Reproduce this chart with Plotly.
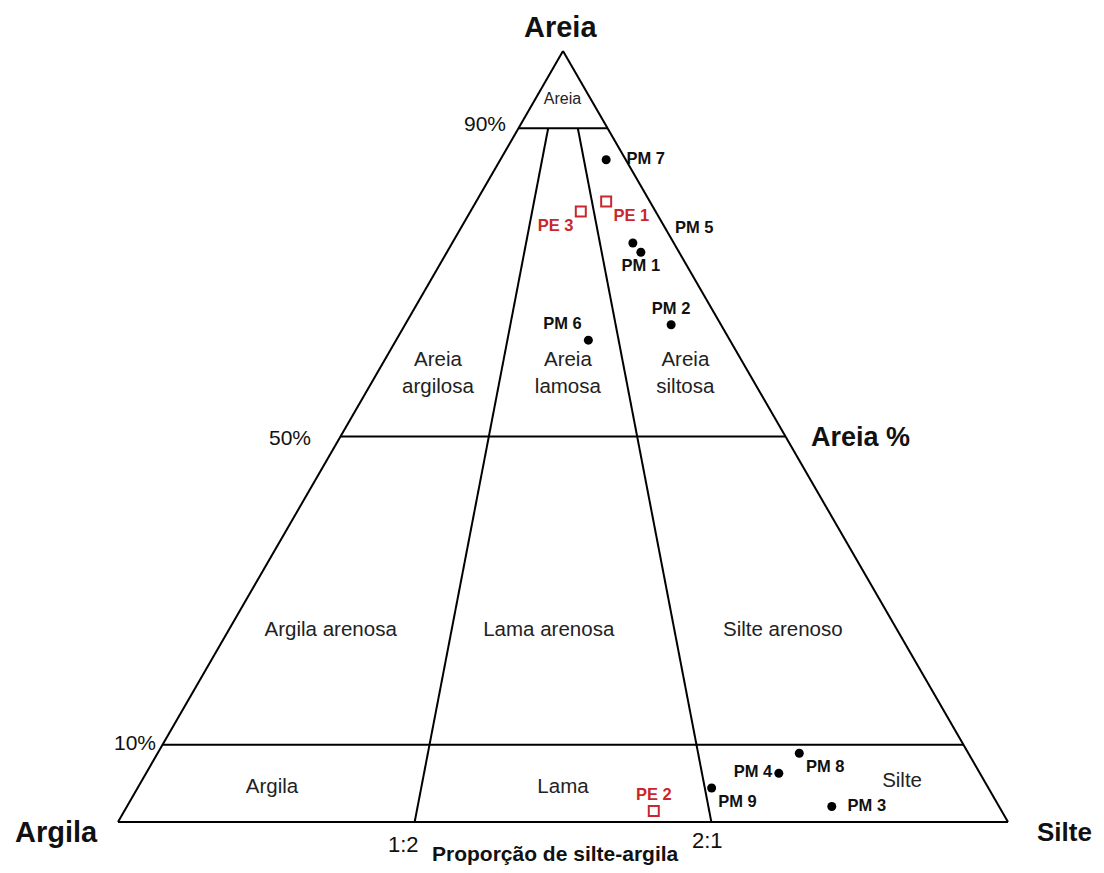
import plotly.graph_objects as go

# --- Classification boundaries (Shepard diagram) ---
sand_levels = [90, 50, 10]          # Areia %
silt_shares = [1 / 3, 2 / 3]        # silte/(silte+argila): 1:2 and 2:1

# --- Samples: PM (black dots) ---
pm_names = ["PM 1", "PM 2", "PM 3", "PM 4", "PM 5", "PM 6", "PM 7", "PM 8", "PM 9"]
pm_areia = [73.9, 64.5, 2.0, 6.3, 75.1, 62.5, 85.9, 8.9, 4.4]
pm_silte = [21.8, 29.9, 79.2, 71.1, 20.3, 21.6, 11.9, 72.1, 64.5]
pm_argila = [4.3, 5.6, 18.8, 22.6, 4.6, 15.9, 2.2, 19.0, 31.1]

# --- Samples: PE (red open squares) ---
pe_names = ["PE 1", "PE 2", "PE 3"]
pe_areia = [80.5, 1.4, 79.2]
pe_silte = [14.6, 59.5, 12.4]
pe_argila = [4.9, 39.1, 8.4]

# --- Class names placed inside the fields ---
class_names = ["Areia", "Areia<br>argilosa", "Areia<br>lamosa", "Areia<br>siltosa",
               "Argila arenosa", "Lama arenosa", "Silte arenoso", "Argila", "Lama", "Silte"]
class_areia = [93.7, 58.1, 58.1, 58.1, 24.8, 24.8, 24.8, 4.4, 4.4, 5.2]
class_silte = [3.1, 6.9, 21.5, 34.7, 11.5, 36.0, 62.3, 15.1, 47.8, 85.5]
class_argila = [3.2, 35.0, 20.4, 7.2, 63.7, 39.2, 12.9, 80.5, 47.8, 9.3]

# label placement for each sample (PM 5 label sits outside the triangle)
pm_textpos = ["bottom center", "top center", "middle right", "middle left", "middle right",
              "top left", "middle right", "bottom right", "bottom right"]
pm_pad = [0, 0, 2, 0, 2, 0, 3, 0, 0]
pm_far = {"PM 5": (1.8, -4.6, 2.8)}   # (d areia, d argila, d silte): label anchor on the edge
pe_textpos = ["bottom right", "top center", "bottom left"]

RED = "#c8282d"
FONT = "Liberation Sans"
W, H = 1104, 873
OFF = 8          # page body margin
NB = "\u00a0"

fig = go.Figure()

# horizontal sand lines
for s in sand_levels:
    fig.add_trace(go.Scatterternary(
        a=[s, s], b=[100 - s, 0], c=[0, 100 - s],
        mode="lines", line=dict(color="black", width=2),
        hoverinfo="skip", showlegend=False,
    ))

# silt:clay ratio lines, from the base up to the 90% line
top = sand_levels[0]
for f in silt_shares:
    fig.add_trace(go.Scatterternary(
        a=[0, top],
        b=[100 * (1 - f), (100 - top) * (1 - f)],
        c=[100 * f, (100 - top) * f],
        mode="lines", line=dict(color="black", width=2),
        hoverinfo="skip", showlegend=False,
    ))

# class labels
fig.add_trace(go.Scatterternary(
    a=class_areia, b=class_argila, c=class_silte,
    mode="text", text=class_names,
    textfont=dict(family=FONT, size=[16] + [20.5] * 9, color="#222"),
    hoverinfo="skip", showlegend=False,
))


def pad(name, pos, n):
    if pos.endswith("right"):
        return NB * n + name
    if pos.endswith("left"):
        return name + NB * n
    return name


pm_text = []
for n, p, k in zip(pm_names, pm_textpos, pm_pad):
    pm_text.append("" if n in pm_far else "<b>%s</b>" % pad(n, p, k))

# PM samples
fig.add_trace(go.Scatterternary(
    a=pm_areia, b=pm_argila, c=pm_silte,
    mode="markers+text", text=pm_text, textposition=pm_textpos,
    textfont=dict(family=FONT, size=16.5, color="#111"),
    marker=dict(symbol="circle", size=9, color="black"),
    cliponaxis=False, showlegend=False, name="PM",
))

# PM labels drawn away from their dot
far_a, far_b, far_c, far_t, far_p = [], [], [], [], []
for i, n in enumerate(pm_names):
    if n in pm_far:
        da, db, dc = pm_far[n]
        far_a.append(pm_areia[i] + da)
        far_b.append(max(pm_argila[i] + db, 0))
        far_c.append(pm_silte[i] + dc)
        far_t.append("<b>%s</b>" % pad(n, pm_textpos[i], pm_pad[i]))
        far_p.append(pm_textpos[i])
fig.add_trace(go.Scatterternary(
    a=far_a, b=far_b, c=far_c, mode="text", text=far_t, textposition=far_p,
    textfont=dict(family=FONT, size=16.5, color="#111"),
    cliponaxis=False, hoverinfo="skip", showlegend=False,
))

# PE samples
fig.add_trace(go.Scatterternary(
    a=pe_areia, b=pe_argila, c=pe_silte,
    mode="markers+text", text=["<b>%s</b>" % n for n in pe_names],
    textposition=pe_textpos,
    textfont=dict(family=FONT, size=16.5, color=RED),
    marker=dict(symbol="square-open", size=10, color=RED, line=dict(width=2, color=RED)),
    cliponaxis=False, showlegend=False, name="PE",
))

axis_style = dict(
    title=dict(text=""), showticklabels=False, ticks="", showgrid=False,
    linecolor="black", linewidth=2,
)

fig.update_layout(
    width=W, height=H,
    margin=dict(l=0, r=0, t=0, b=0),
    paper_bgcolor="white",
    ternary=dict(
        sum=100,
        domain=dict(x=[(118 - OFF) / W, (1008 - OFF) / W],
                    y=[(H - 823 + OFF) / H, (H - 823 + OFF + 773) / H]),
        bgcolor="white",
        aaxis=axis_style, baxis=axis_style, caxis=axis_style,
    ),
    font=dict(family=FONT, color="#111"),
)


def label(txt, px, py, size, bold=False, color="#111"):
    fig.add_annotation(
        x=(px - OFF) / W, y=1 - (py - OFF) / H, xref="paper", yref="paper",
        xanchor="center", yanchor="middle",
        text="<b>%s</b>" % txt if bold else txt, showarrow=False,
        font=dict(family=FONT, size=size, color=color),
    )


label("Areia", 560, 27, 29, bold=True)
label("Argila", 56, 832, 29, bold=True)
label("Silte", 1064, 832, 26, bold=True)
label("Areia %", 860, 437, 27, bold=True)
label("90%", 485, 124, 21)
label("50%", 290, 437, 21)
label("10%", 135, 742, 21)
label("1:2", 403, 844, 22)
label("2:1", 707, 840, 22)
label("Proporção de silte-argila", 555, 853, 21, bold=True)

fig.write_html("out.html")
